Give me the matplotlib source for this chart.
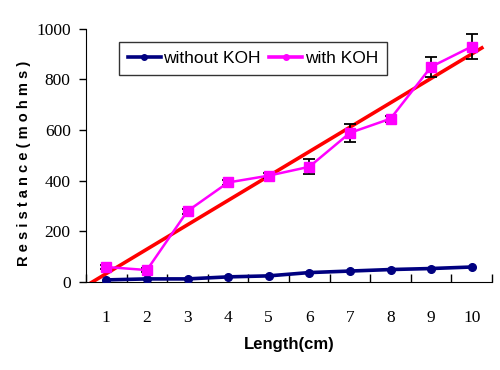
import matplotlib
matplotlib.use("Agg")
import matplotlib.pyplot as plt
from matplotlib.lines import Line2D
import numpy as np

# data
lengths = [1, 2, 3, 4, 5, 6, 7, 8, 9, 10]
without_koh = [8, 12, 12, 20, 24, 37, 43, 49, 53, 59]
with_koh = [59, 47, 280, 393, 420, 455, 589, 645, 850, 930]
with_koh_err = [8, 8, 10, 10, 10, 30, 35, 12, 40, 50]
y_ticks = [0, 200, 400, 600, 800, 1000]

serif = "Liberation Serif"
sans = "Liberation Sans"
NAVY, MAGENTA, RED = "#000080", "#ff00ff", "#ff0000"

# tick numbers are serif, the labels and legend are given sans explicitly
plt.rcParams["font.family"] = [serif, "DejaVu Serif"]
plt.rcParams["xtick.labelsize"] = 12.5
plt.rcParams["ytick.labelsize"] = 12.5

fig = plt.figure(figsize=(5.0, 3.7), dpi=100)
ax = fig.add_axes([0.172, 0.238, 0.812, 0.684])

x = np.array(lengths)

# linear trendline of the "with KOH" series
slope, icpt = np.polyfit(x, with_koh, 1)
xt = np.array([0.5, 10.25])
ax.plot(xt, icpt + slope * xt, color=RED, lw=2.6, zorder=2)

ax.plot(x, without_koh, color=NAVY, lw=2.6, marker="o", ms=5.5, zorder=3)
ax.errorbar(x, with_koh, yerr=with_koh_err, color=MAGENTA, lw=1.8,
            marker="s", ms=6.5, ecolor="black", elinewidth=1.3, capsize=4,
            capthick=1.3, zorder=4)

ax.set_xlim(0.5, 10.5)
ax.set_ylim(0, 1000)
ax.set_yticks(y_ticks)
ax.set_xticks(x)
ax.set_xticks(np.arange(0.5, 11, 1), minor=True)
ax.tick_params(axis="x", which="major", length=0, pad=20)
ax.tick_params(axis="x", which="minor", direction="in", length=6, width=1)
ax.tick_params(axis="y", direction="out", length=5, width=1, pad=6)

for side in ("top", "right"):
    ax.spines[side].set_visible(False)

ax.set_xlabel("Length(cm)", fontfamily=sans, fontsize=12, fontweight="bold",
              labelpad=8)
ax.set_ylabel(" ".join("Resistance(mohms)"), fontfamily=sans, fontsize=10.5,
              fontweight="bold")
ax.yaxis.set_label_coords(-0.135, 0.47)

handles = [
    Line2D([], [], color=NAVY, lw=2.6, marker="o", ms=4),
    Line2D([], [], color=MAGENTA, lw=2.6, marker="o", ms=4),
]
leg = fig.legend(handles, ["without KOH", "with KOH"], loc="upper left",
                 bbox_to_anchor=(0.238, 0.886), ncol=2,
                 prop={"family": sans, "size": 12.5},
                 frameon=True, fancybox=False, edgecolor="black",
                 handlelength=1.9, handletextpad=0.15, columnspacing=0.5,
                 borderpad=0.5, borderaxespad=0)
leg.get_frame().set_linewidth(1)

fig.savefig("out.png", dpi=100, facecolor="white")
